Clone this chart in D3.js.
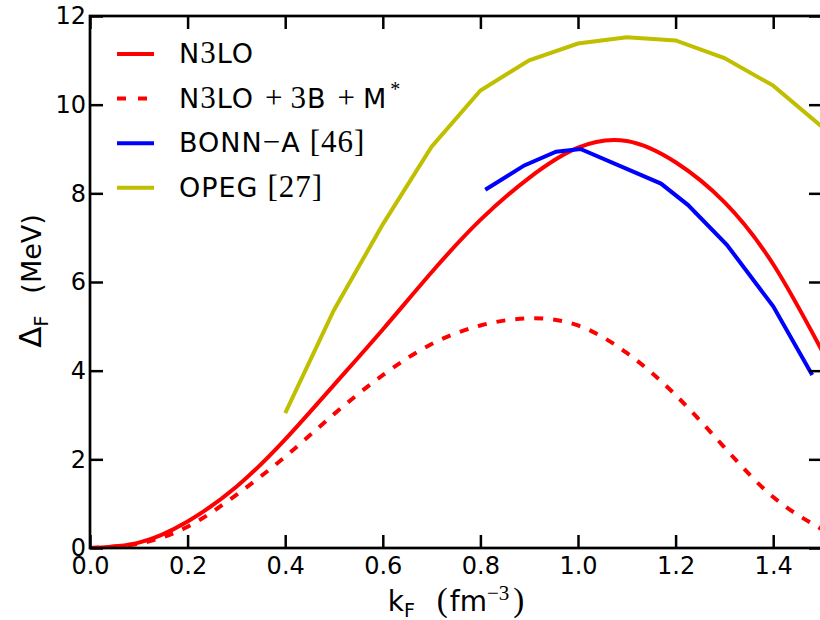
<!DOCTYPE html>
<html><head><meta charset="utf-8">
<script src="https://cdn.jsdelivr.net/npm/d3@7"></script>
<style>body{margin:0;background:#fff}svg{display:block}</style>
</head><body><svg id="c" width="820" height="620"></svg>
<script>
// ---- data ----
const kGrid = [0,0.1,0.2,0.3,0.4,0.5,0.6,0.7,0.8,0.9,1.0,1.1,1.2,1.3,1.4,1.5];
const n3lo = [0,0.12,0.6,1.38,2.45,3.68,4.93,6.22,7.4,8.35,9.03,9.18,8.7,7.8,6.4,4.45];
const n3loM = [0,0.1,0.48,1.2,2.06,3.02,3.9,4.6,5.02,5.18,5.02,4.4,3.45,2.27,1.15,0.42];
const opegK = [0.4,0.5,0.6,0.7,0.8,0.9,1.0,1.1,1.2,1.3,1.4,1.5];
const opeg = [3.04,5.37,7.3,9.05,10.32,11.0,11.38,11.52,11.45,11.05,10.43,9.5];
const bonnK = [0.81,0.89,0.955,1.005,1.17,1.225,1.305,1.4,1.48];
const bonn = [8.08,8.63,8.94,9.0,8.22,7.74,6.84,5.45,3.9];
const xTicks = [0,0.2,0.4,0.6,0.8,1.0,1.2,1.4];
const yTicks = [0,2,4,6,8,10,12];

const svg = d3.select("#c");
const L = 90, T = 16, R = 822, B = 548;
const x = d3.scaleLinear().domain([0,1.5]).range([L,R]);
const y = d3.scaleLinear().domain([0,12]).range([B,T]);

svg.append("defs").append("clipPath").attr("id","clip")
  .append("rect").attr("x",L).attr("y",T).attr("width",R-L).attr("height",B-T);

const FONT = "DejaVu Sans, sans-serif";
const SERIF = "Liberation Serif, DejaVu Serif, serif";

const line = d3.line().x(d=>x(d[0])).y(d=>y(d[1]));
const smooth = d3.line().x(d=>x(d[0])).y(d=>y(d[1])).curve(d3.curveNatural);

const g = svg.append("g").attr("clip-path","url(#clip)");
g.append("path").datum(opegK.map((k,i)=>[k,opeg[i]])).attr("d",line)
  .attr("fill","none").attr("stroke","#bfbf00").attr("stroke-width",4);
g.append("path").datum(kGrid.map((k,i)=>[k,n3lo[i]])).attr("d",smooth)
  .attr("fill","none").attr("stroke","#ff0000").attr("stroke-width",4);
g.append("path").datum(kGrid.map((k,i)=>[k,n3loM[i]])).attr("d",smooth)
  .attr("fill","none").attr("stroke","#ff0000").attr("stroke-width",4).attr("stroke-dasharray","9,10");
g.append("path").datum(bonnK.map((k,i)=>[k,bonn[i]])).attr("d",line)
  .attr("fill","none").attr("stroke","#0000ff").attr("stroke-width",4);

// axes
function styleAxis(sel){
  sel.select(".domain").remove();
  sel.selectAll(".tick line").attr("stroke","#000").attr("stroke-width",2.5);
  sel.selectAll(".tick text").attr("font-family",FONT).attr("font-size",24).attr("fill","#000");
}
svg.append("g").attr("transform",`translate(0,${B})`)
  .call(d3.axisBottom(x).tickValues(xTicks).tickSize(-13).tickPadding(9).tickFormat(d3.format(".1f")))
  .call(styleAxis);
svg.append("g").attr("transform",`translate(0,${T})`)
  .call(d3.axisTop(x).tickValues(xTicks).tickSize(-13).tickFormat(""))
  .call(styleAxis);
svg.append("g").attr("transform",`translate(${L},0)`)
  .call(d3.axisLeft(y).tickValues(yTicks).tickSize(-13).tickPadding(4).tickFormat(d3.format("d")))
  .call(styleAxis);
svg.append("g").attr("transform",`translate(${R},0)`)
  .call(d3.axisRight(y).tickValues(yTicks).tickSize(-13).tickFormat(""))
  .call(styleAxis);
svg.append("rect").attr("x",L).attr("y",T).attr("width",R-L).attr("height",B-T)
  .attr("fill","none").attr("stroke","#000").attr("stroke-width",2.7);

// legend
const legend = [
  {color:"#ff0000", dash:null, parts:[["N",FONT],["3",SERIF],["LO",FONT]]},
  {color:"#ff0000", dash:"9,12", parts:[["N",FONT],["3",SERIF],["LO",FONT],["+",SERIF,11],["3",SERIF,7],["B",FONT],["+",SERIF,11],["M",FONT,7],["*",SERIF,"sup"]]},
  {color:"#0000ff", dash:null, parts:[["BONN",FONT],["−",SERIF],["A",FONT],["[46]",SERIF,9]]},
  {color:"#bfbf00", dash:null, parts:[["OPEG",FONT],["[27]",SERIF,9]]}
];
legend.forEach((d,i)=>{
  const ly = 54 + i*44.6;
  svg.append("line").attr("x1",117).attr("x2",154).attr("y1",ly).attr("y2",ly)
    .attr("stroke",d.color).attr("stroke-width",4).attr("stroke-dasharray",d.dash);
  const t = svg.append("text").attr("x",179).attr("y",ly+9).attr("font-size",27).attr("fill","#000")
    .attr("letter-spacing",1);
  d.parts.forEach(p=>{
    const ts = t.append("tspan").attr("font-family",p[1]).text(p[0]);
    if(p[1]===SERIF) ts.attr("font-size",31);
    if(typeof p[2]==="number") ts.attr("dx",p[2]);
    if(p[2]==="sup") ts.attr("font-size",20).attr("dy",-12).attr("dx",3);
  });
});

// axis labels
const xl = svg.append("text").attr("x",456).attr("y",611).attr("text-anchor","middle")
  .attr("font-size",28).attr("fill","#000");
xl.append("tspan").attr("font-family",FONT).text("k");
xl.append("tspan").attr("font-family",FONT).attr("font-size",19).attr("dy",6).text("F");
xl.append("tspan").attr("font-family",SERIF).attr("font-size",33).attr("dy",-6).attr("dx",22).text("(");
xl.append("tspan").attr("font-family",FONT).attr("dx",2).text("fm");
xl.append("tspan").attr("font-family",SERIF).attr("font-size",21).attr("dy",-11).text("−3");
xl.append("tspan").attr("font-family",SERIF).attr("font-size",33).attr("dy",11).attr("dx",4).text(")");

const yl = svg.append("text").attr("transform","translate(41,281) rotate(-90)").attr("text-anchor","middle")
  .attr("font-size",27).attr("fill","#000").attr("font-family",FONT);
yl.append("tspan").attr("font-size",31).text("Δ");
yl.append("tspan").attr("font-size",19).attr("dy",7).text("F");
yl.append("tspan").attr("dy",-7).attr("dx",22).text("(MeV)");
</script></body></html>
